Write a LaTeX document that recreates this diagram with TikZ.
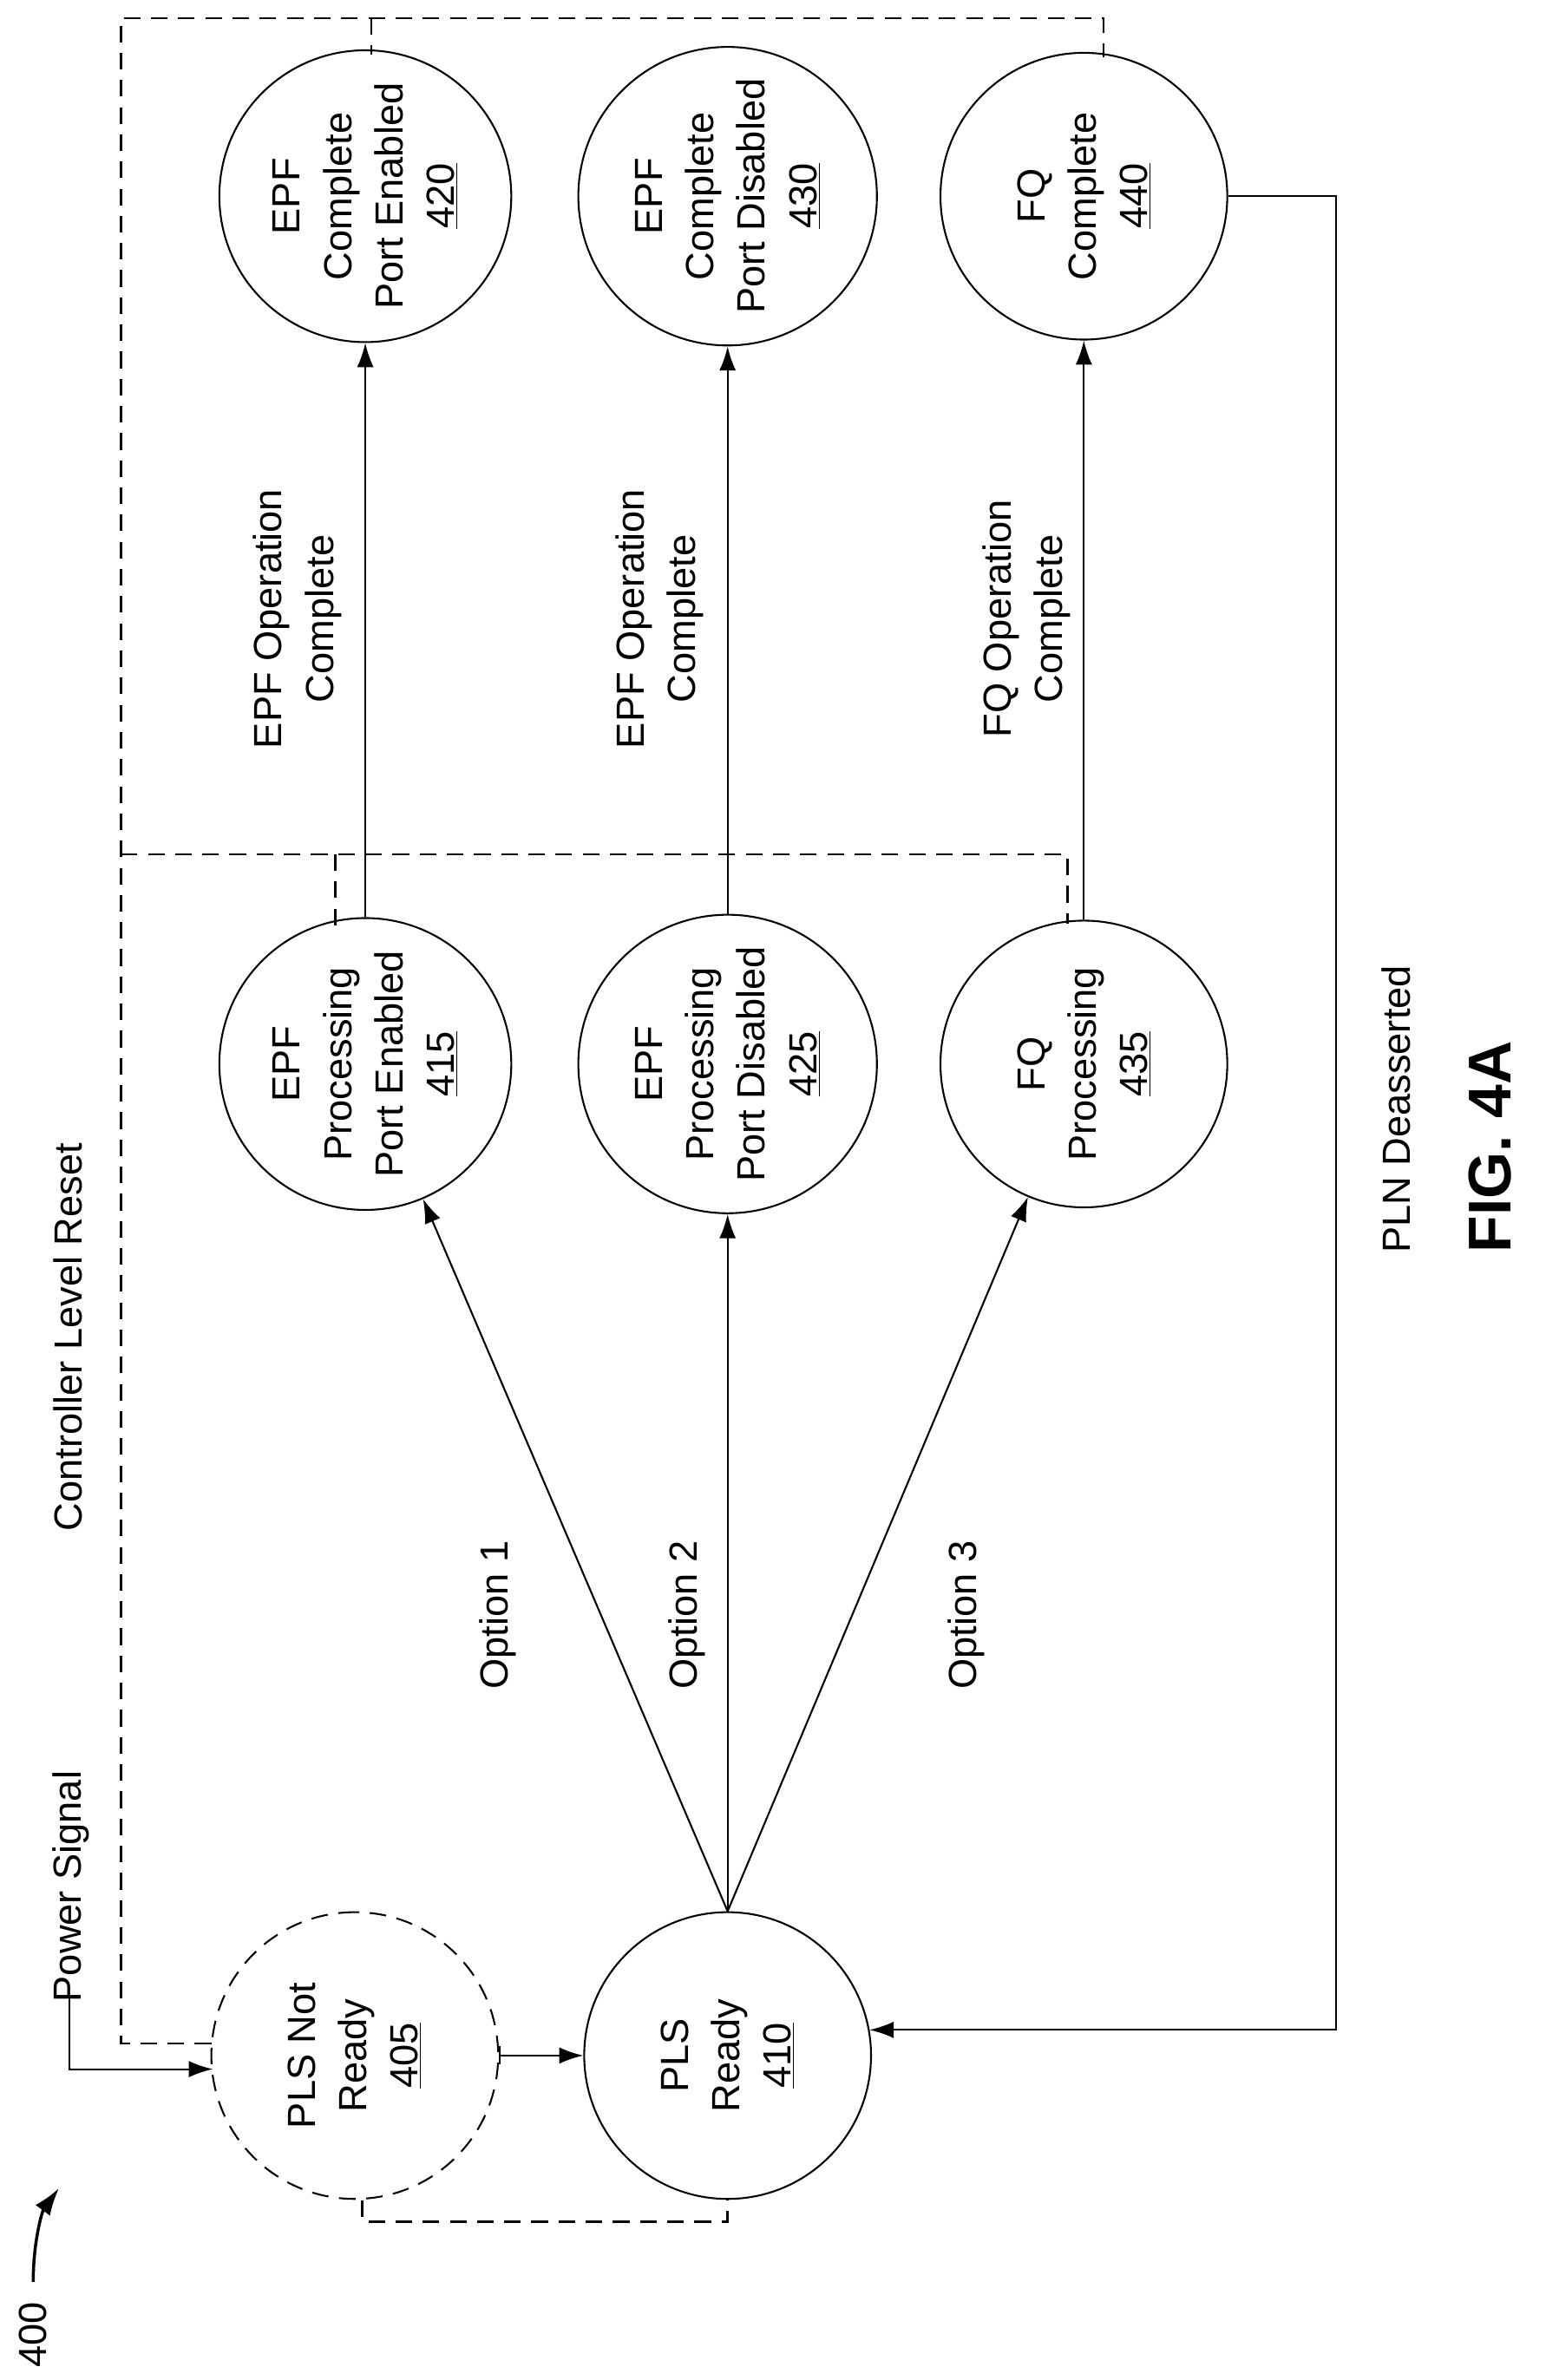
\documentclass[tikz,border=0pt]{standalone}
\usepackage{fontspec}
\setmainfont{Liberation Sans}
\usetikzlibrary{arrows.meta,calc}
\begin{document}
\begin{tikzpicture}[x=1pt,y=-1pt,
  st/.style={circle,draw,line width=1.2pt,minimum size=190pt,inner sep=0pt,align=center,rotate=90,font=\fontsize{26}{34}\selectfont},
  lbl/.style={align=center,rotate=90,font=\fontsize{26}{34}\selectfont},
  ar/.style={line width=1.2pt,-{Latex[length=16pt,width=11pt]}},
  dsh/.style={line width=1.5pt,dash pattern=on 11pt off 7pt}]
\useasboundingbox (0,0) rectangle (1024,1577);
\node[st,dashed,dash pattern=on 11pt off 7pt] (n405) at (235,1362) {PLS Not\\Ready\\\underline{405}};
\node[st] (n410) at (482,1362) {PLS\\Ready\\\underline{410}};
\node[st] (n415) at (242,705) {EPF\\Processing\\Port Enabled\\\underline{415}};
\node[st] (n425) at (482,705) {EPF\\Processing\\Port Disabled\\\underline{425}};
\node[st] (n435) at (718,705) {FQ\\Processing\\\underline{435}};
\node[st] (n420) at (242,130) {EPF\\Complete\\Port Enabled\\\underline{420}};
\node[st] (n430) at (482,130) {EPF\\Complete\\Port Disabled\\\underline{430}};
\node[st] (n440) at (718,130) {FQ\\Complete\\\underline{440}};
% power signal
\node[lbl] (ps) at (47,1250) {Power Signal};
\coordinate (psa) at (46,1322);
\coordinate (psb) at (141,1371);
\draw[ar] (psa) |- (psb);
\draw[line width=1.2pt,{Bar[width=12pt]}-{Latex[length=16pt,width=11pt]}] (n405.south) -- (n410.north);
% self dashed loop 405-410
\coordinate (b1) at (240,1458);
\coordinate (b2) at (482,1472);
\draw[dsh] (b1) |- (b2) -- (n410.west);
% controller level reset
\node[lbl] (clr) at (45,886) {Controller Level Reset};
\coordinate (c1) at (140,1354);
\coordinate (c2) at (80,12);
\coordinate (c3) at (731,12);
\coordinate (c4) at (246,12);
\draw[dsh] (c1) -- (80,1354) -- (c2) -- (c3) -- (731,38);
\draw[dsh] (c4) -- (246,36);
\coordinate (d1) at (80,566);
\coordinate (d2) at (707,566);
\draw[dsh] (d1) -- (d2) -- (707,612);
\draw[dsh] (222,566) -- (222,617);
% completion arrows
\draw[ar] (n415.east) -- (n420.west);
\draw[ar] (n425.east) -- (n430.west);
\draw[ar] (n435.east) -- (n440.west);
\node[lbl] (l1) at (197,410) {EPF Operation\\Complete};
\node[lbl] (l2) at (437,410) {EPF Operation\\Complete};
\node[lbl] (l3) at (680,410) {FQ Operation\\Complete};
% options
\draw[ar] (n410.east) -- (n415);
\draw[ar] (n410.east) -- (n425.west);
\draw[ar] (n410.east) -- (n435);
\node[lbl] (o1) at (330,1070) {Option 1};
\node[lbl] (o2) at (455,1070) {Option 2};
\node[lbl] (o3) at (640,1070) {Option 3};
% PLN deasserted
\coordinate (p1) at (885,130);
\coordinate (p2) at (885,1345);
\draw[ar] (n440.south) -- (p1) -- (p2) -- ($(n410.center)+(94,-17)$);
\node[lbl] (pln) at (925,735) {PLN Deasserted};
\node[rotate=90,font=\fontsize{40}{48}\selectfont\bfseries] (fig) at (987,760) {FIG. 4A};
% 400
\node[lbl] (n400) at (22,1547) {400};
\coordinate (r1) at (39,1450);
\draw[line width=2pt,-{Latex[length=18pt,width=12pt]}] (22,1512) .. controls (22,1485) and (28,1465) .. (r1);
\end{tikzpicture}
\end{document}
